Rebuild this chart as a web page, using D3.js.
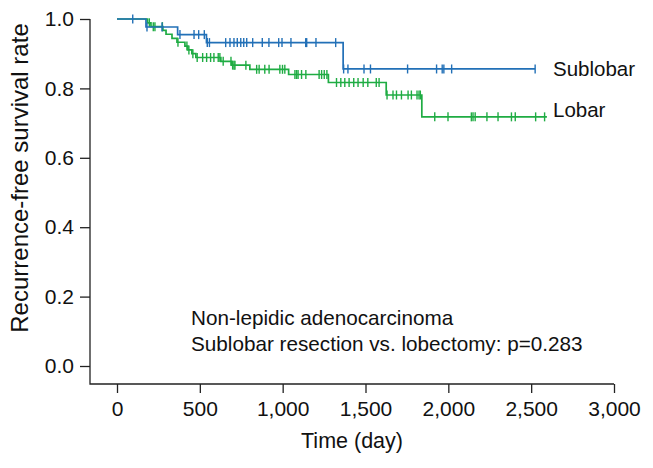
<!DOCTYPE html>
<html>
<head>
<meta charset="utf-8">
<script src="https://cdn.jsdelivr.net/npm/d3@7"></script>
<style>
  html, body { margin: 0; padding: 0; background: #fff; }
  svg { display: block; font-family: "Liberation Sans", Arial, sans-serif; }
</style>
</head>
<body>
<svg id="chart" width="653" height="468"></svg>
<script>
// ---- data ----
const seriesNames = ["Sublobar", "Lobar"];

const sublobarEventTimes = [175, 366, 540, 1365];
const sublobarSurvival   = [0.977, 0.955, 0.932, 0.856];
const sublobarCensorTimes = [95, 181, 272, 380, 465, 493, 527, 545, 558, 656, 682, 706, 726, 747, 765, 783,
  819, 877, 917, 976, 996, 1050, 1139, 1145, 1201, 1320, 1368, 1394, 1491, 1530, 1754, 1929, 1963,
  1973, 2020, 2524];
const sublobarEndTime = 2524;

const lobarEventTimes = [184, 205, 277, 296, 332, 362, 410, 428, 452, 476, 627, 691, 802, 1036, 1276, 1625, 1840];
const lobarSurvival   = [0.989, 0.978, 0.967, 0.956, 0.944, 0.933, 0.922, 0.911, 0.900, 0.889,
  0.878, 0.867, 0.855, 0.840, 0.817, 0.781, 0.718];
const lobarCensorTimes = [195, 219, 229, 274, 368, 422, 434, 458, 484, 517, 541, 565, 585, 611, 621, 641,
  688, 698, 706, 712, 778, 843, 858, 892, 918, 983, 999, 1013, 1074, 1084, 1093, 1114, 1140, 1220,
  1235, 1251, 1267, 1325, 1351, 1375, 1401, 1429, 1455, 1486, 1514, 1565, 1582, 1630, 1666, 1687,
  1717, 1757, 1777, 1811, 1823, 1831, 1918, 1998, 2139, 2149, 2162, 2233, 2300, 2381, 2404, 2527, 2581];
const lobarEndTime = 2595;

const xTicks = [0, 500, 1000, 1500, 2000, 2500, 3000];
const yTicks = [0.0, 0.2, 0.4, 0.6, 0.8, 1.0];

const xTitle = "Time (day)";
const yTitle = "Recurrence-free survival rate";
const noteLines = ["Non-lepidic adenocarcinoma", "Sublobar resection vs. lobectomy: p=0.283"];

// ---- drawing ----
const colors = { Sublobar: "#2270b7", Lobar: "#1fac43" };
const svg = d3.select("#chart");

const x = d3.scaleLinear().domain([0, 3000]).range([117, 614]);
const y = d3.scaleLinear().domain([0, 1]).range([366, 19]);
const axisX0 = 90, axisY0 = 384;
const tickFont = 21;

// axis lines (L-shaped frame)
svg.append("path")
  .attr("d", `M${axisX0},${y(1)}V${axisY0}H${x(3000)}`)
  .attr("fill", "none").attr("stroke", "#222").attr("stroke-width", 1.3);

// x axis ticks/labels
const gx = svg.append("g").attr("transform", `translate(0,${axisY0})`)
  .call(d3.axisBottom(x).tickValues(xTicks).tickFormat(d3.format(",")).tickSize(9).tickPadding(8));
gx.select(".domain").remove();
gx.selectAll("line").attr("stroke", "#222").attr("stroke-width", 1.3);
gx.selectAll("text").attr("font-size", tickFont).attr("fill", "#111").attr("font-family", "Liberation Sans, Arial, sans-serif");

// y axis ticks/labels
const gy = svg.append("g").attr("transform", `translate(${axisX0},0)`)
  .call(d3.axisLeft(y).tickValues(yTicks).tickFormat(d3.format(".1f")).tickSize(10).tickPadding(6));
gy.select(".domain").remove();
gy.selectAll("line").attr("stroke", "#222").attr("stroke-width", 1.3);
gy.selectAll("text").attr("font-size", tickFont).attr("fill", "#111").attr("font-family", "Liberation Sans, Arial, sans-serif");

// axis titles
svg.append("text").attr("x", 352).attr("y", 448)
  .attr("text-anchor", "middle").attr("font-size", 21.5).attr("fill", "#111").text(xTitle);
svg.append("text").attr("transform", `translate(28,178) rotate(-90)`)
  .attr("text-anchor", "middle").attr("font-size", 24).attr("fill", "#111").text(yTitle);

// KM curves
function buildSeries(eventTimes, survival, censorTimes, endTime) {
  const pts = [[0, 1]];
  eventTimes.forEach((t, i) => pts.push([t, survival[i]]));
  pts.push([endTime, survival[survival.length - 1]]);
  const survAt = t => {
    let s = 1;
    eventTimes.forEach((et, i) => { if (et <= t) s = survival[i]; });
    return s;
  };
  const cens = censorTimes.map(t => [t, survAt(t)]);
  return { pts, cens };
}

const series = [
  { name: "Sublobar", ...buildSeries(sublobarEventTimes, sublobarSurvival, sublobarCensorTimes, sublobarEndTime) },
  { name: "Lobar", ...buildSeries(lobarEventTimes, lobarSurvival, lobarCensorTimes, lobarEndTime) }
];

const line = d3.line().x(d => x(d[0])).y(d => y(d[1])).curve(d3.curveStepAfter);

// draw Lobar first, Sublobar on top
[series[1], series[0]].forEach(s => {
  const g = svg.append("g");
  g.append("path").attr("d", line(s.pts)).attr("fill", "none")
    .attr("stroke", colors[s.name]).attr("stroke-width", 1.7);
  g.selectAll("line.c").data(s.cens).join("line")
    .attr("x1", d => x(d[0])).attr("x2", d => x(d[0]))
    .attr("y1", d => y(d[1]) - 4.5).attr("y2", d => y(d[1]) + 4.5)
    .attr("stroke", colors[s.name]).attr("stroke-width", 1.4);
});

// series labels
svg.append("text").attr("x", 553).attr("y", 76).attr("font-size", 20.5).attr("fill", "#111").text(seriesNames[0]);
svg.append("text").attr("x", 553).attr("y", 117).attr("font-size", 20.5).attr("fill", "#111").text(seriesNames[1]);

// annotation
noteLines.forEach((t, i) => {
  svg.append("text").attr("x", 191).attr("y", 325 + i * 26).attr("font-size", 20.7).attr("fill", "#111").text(t);
});
</script>
</body>
</html>
